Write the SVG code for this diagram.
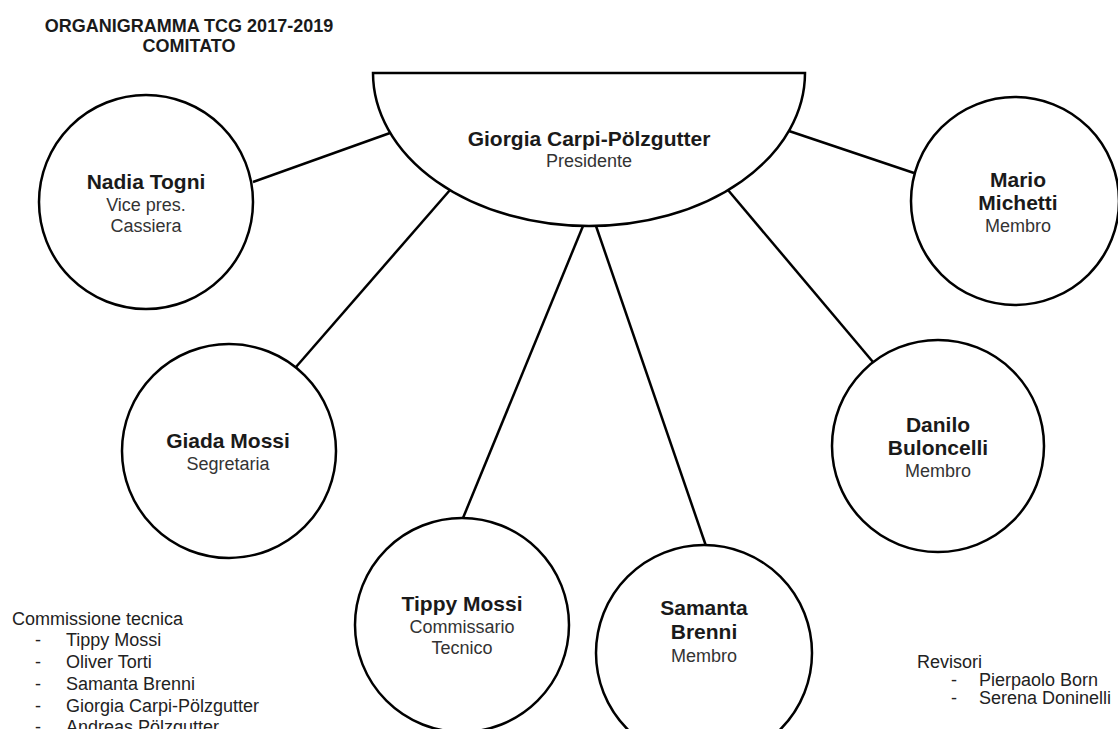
<svg xmlns="http://www.w3.org/2000/svg" width="1118" height="729" viewBox="0 0 1118 729">
<style>
.shape{fill:#fff;stroke:#000;stroke-width:2.5}
.conn line{stroke:#000;stroke-width:2.5}
.name{font-family:"Liberation Sans",Arial,sans-serif;font-weight:bold;font-size:21px;fill:#1a1a1a;text-anchor:middle}
.role{font-family:"Liberation Sans",Arial,sans-serif;font-size:18px;fill:#333;text-anchor:middle}
.title{font-family:"Liberation Sans",Arial,sans-serif;font-weight:bold;font-size:18px;fill:#1a1a1a;text-anchor:middle}
.list{font-family:"Liberation Sans",Arial,sans-serif;font-size:18px;fill:#222}
</style>
<rect width="1118" height="729" fill="#fff"/>
<g id="title">
<text class="title" x="189" y="32">ORGANIGRAMMA TCG 2017-2019</text>
<text class="title" x="189" y="52">COMITATO</text>
</g>
<g id="connectors" class="conn">
<line x1="390" y1="133" x2="253" y2="182"/>
<line x1="450" y1="190" x2="296" y2="367"/>
<line x1="583" y1="226" x2="463" y2="518"/>
<line x1="596" y1="226" x2="706" y2="546"/>
<line x1="728" y1="190" x2="873" y2="362"/>
<line x1="789" y1="131" x2="914" y2="173"/>
</g>
<g id="presidente">
<path class="shape" d="M373,73 L805,73 A216,153 0 0 1 373,73 Z"/>
<text class="name" x="589" y="146">Giorgia Carpi-Pölzgutter</text>
<text class="role" x="589" y="167">Presidente</text>
</g>
<g id="nadia">
<circle class="shape" cx="146" cy="202" r="107"/>
<text class="name" x="146" y="189">Nadia Togni</text>
<text class="role" x="146" y="211">Vice pres.</text>
<text class="role" x="146" y="232">Cassiera</text>
</g>
<g id="mario">
<circle class="shape" cx="1015" cy="201" r="104"/>
<text class="name" x="1018" y="187">Mario</text>
<text class="name" x="1018" y="210">Michetti</text>
<text class="role" x="1018" y="232">Membro</text>
</g>
<g id="giada">
<circle class="shape" cx="229" cy="451" r="107"/>
<text class="name" x="228" y="448">Giada Mossi</text>
<text class="role" x="228" y="470">Segretaria</text>
</g>
<g id="tippy">
<circle class="shape" cx="462" cy="625" r="107"/>
<text class="name" x="462" y="611">Tippy Mossi</text>
<text class="role" x="462" y="633">Commissario</text>
<text class="role" x="462" y="654">Tecnico</text>
</g>
<g id="samanta">
<circle class="shape" cx="704" cy="653" r="108"/>
<text class="name" x="704" y="615">Samanta</text>
<text class="name" x="704" y="639">Brenni</text>
<text class="role" x="704" y="662">Membro</text>
</g>
<g id="danilo">
<circle class="shape" cx="938" cy="446" r="106"/>
<text class="name" x="938" y="432">Danilo</text>
<text class="name" x="938" y="455">Buloncelli</text>
<text class="role" x="938" y="477">Membro</text>
</g>
<g id="commissione">
<text class="list" x="12" y="625">Commissione tecnica</text>
<text class="list" x="35" y="646">-</text><text class="list" x="66" y="646">Tippy Mossi</text>
<text class="list" x="35" y="668">-</text><text class="list" x="66" y="668">Oliver Torti</text>
<text class="list" x="35" y="690">-</text><text class="list" x="66" y="690">Samanta Brenni</text>
<text class="list" x="35" y="712">-</text><text class="list" x="66" y="712">Giorgia Carpi-Pölzgutter</text>
<text class="list" x="35" y="733">-</text><text class="list" x="66" y="733">Andreas Pölzgutter</text>
</g>
<g id="revisori">
<text class="list" x="917" y="668">Revisori</text>
<text class="list" x="951" y="686">-</text><text class="list" x="979" y="686">Pierpaolo Born</text>
<text class="list" x="951" y="704">-</text><text class="list" x="979" y="704">Serena Doninelli</text>
</g>
</svg>
